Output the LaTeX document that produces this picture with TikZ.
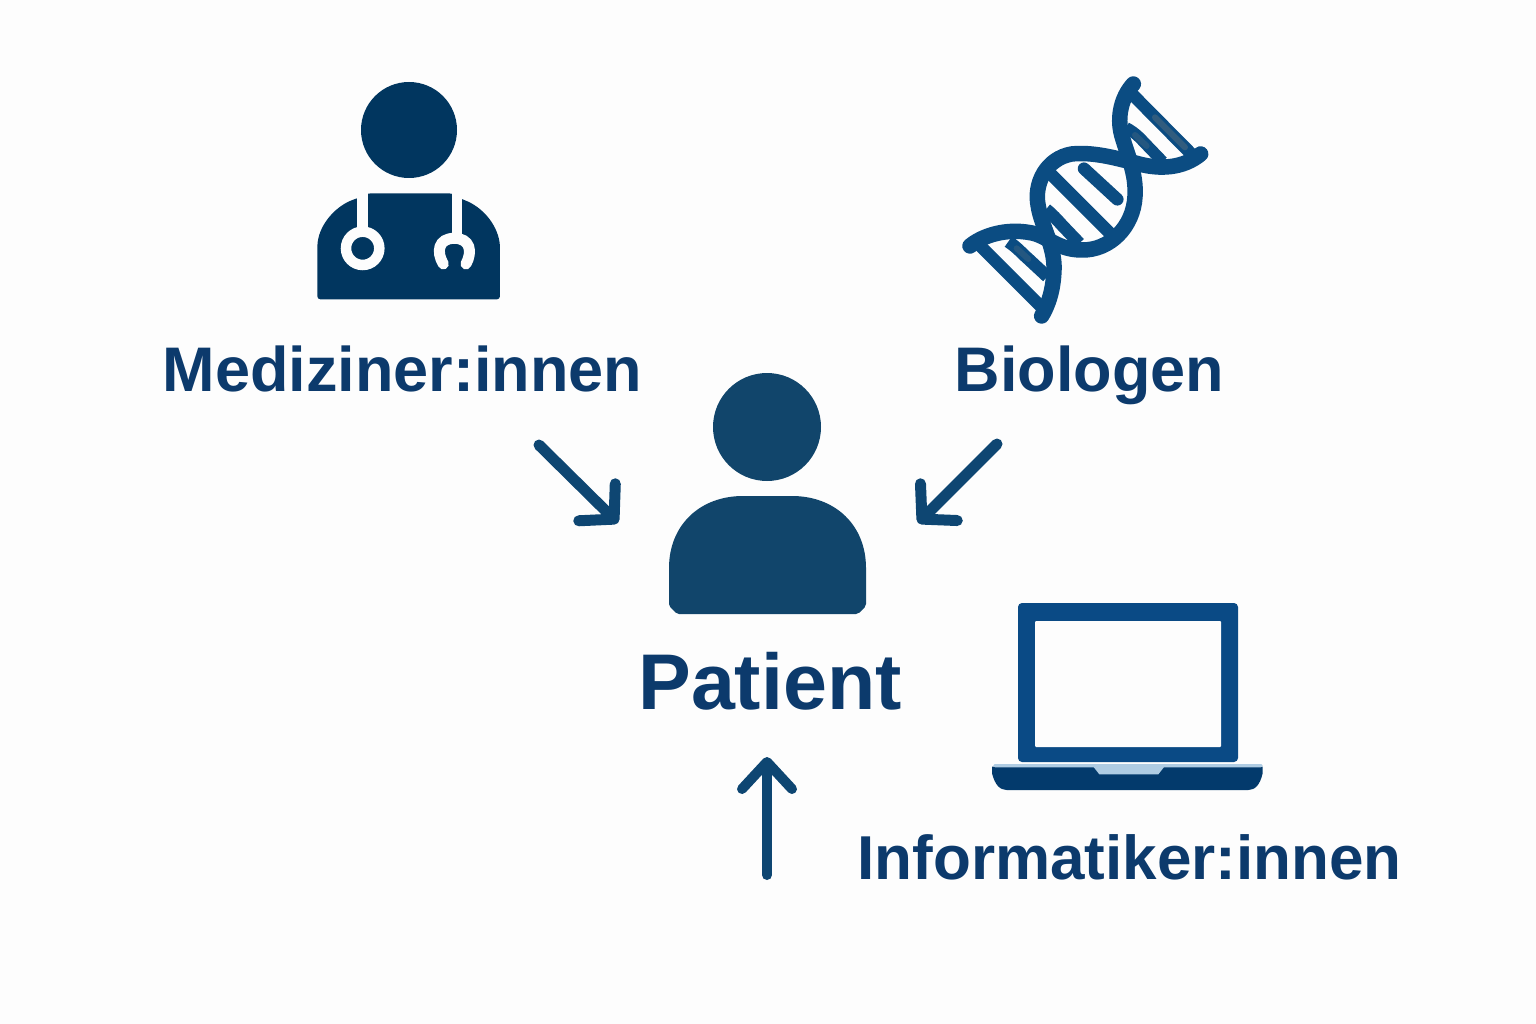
\documentclass[tikz,border=0pt]{standalone}
\usepackage{fontspec}
\setmainfont{Liberation Sans}
\usetikzlibrary{arrows.meta}
\definecolor{bgc}{HTML}{FDFDFD}
\definecolor{docc}{HTML}{01365F}
\definecolor{patc}{HTML}{11456B}
\definecolor{dnac}{HTML}{0B4C82}
\definecolor{lapc}{HTML}{0A4A85}
\definecolor{lapd}{HTML}{033A6C}
\definecolor{lapl}{HTML}{AFCCE3}
\definecolor{txtc}{HTML}{0C3A6C}
\definecolor{arrc}{HTML}{0E4672}
\definecolor{tanc}{HTML}{8A8478}
\tikzset{
  lbl/.style={font=\bfseries\fontsize{63}{70}\selectfont,text=txtc,anchor=base,inner sep=0pt},
  flow/.style={draw=arrc,line width=11pt,line cap=round,-{Straight Barb[length=24pt,width=52pt,round,line width=11pt]}},
  flowup/.style={draw=arrc,line width=10pt,line cap=round,-{Straight Barb[length=27pt,width=50pt,round,line width=10pt]}},
  strand/.style={draw=dnac,line width=15.5pt,line cap=round,line join=round},
  rung/.style={draw=dnac,line width=12.5pt,line cap=butt},
}
\begin{document}
\begin{tikzpicture}[x=1pt,y=-1pt]
\useasboundingbox (0,0) rectangle (1536,1024);
\fill[bgc] (0,0) rectangle (1536,1024);

% doctor
\fill[docc] (409,130) circle (48);
\begin{scope}[shift={(300,170)},x=0.3333pt,y=-0.3333pt]
\fill[docc,rounded corners=3pt] (52,388) -- (52,225) .. controls (60,160) and (110,105) .. (172,85)
  -- (205,70) -- (455,70) -- (487,88) .. controls (545,110) and (590,160) .. (600,225) -- (600,388) -- cycle;
\fill[bgc] (172,60) rectangle (205,185);
\fill[bgc] (455,60) rectangle (487,195);
\draw[bgc,line width=10.5pt] (188,235) circle (50);
\draw[bgc,line width=11pt,line cap=round] (430,282) .. controls (408,245) and (415,205) .. (463,205) .. controls (511,205) and (518,245) .. (498,282);
\end{scope}

% dna
\begin{scope}[shift={(940,60)},x=0.3333pt,y=-0.3333pt]
\draw[rung] (572,98) -- (768,296);
\draw[rung,line width=11.5pt] (558,203) .. controls (590,220) and (605,240) .. (620,255) -- (668,305);
\draw[rung] (325,335) -- (530,540);
\draw[rung,line width=12.5pt,line cap=round] (432,326) -- (532,418);
\draw[rung] (318,448) .. controls (345,470) and (360,490) .. (375,505) -- (418,550);
\draw[rung] (205,545) .. controls (235,565) and (250,585) .. (265,597) -- (322,650);
\draw[rung] (110,547) -- (315,752);
\draw[strand] (580,72) .. controls (545,110) and (530,170) .. (545,225) .. controls (560,280) and (590,340) .. (585,410)
  .. controls (580,500) and (510,572) .. (425,570) .. controls (350,570) and (320,525) .. (270,518) .. controls (200,505) and (130,525) .. (90,558);
\draw[strand] (782,282) .. controls (730,325) and (660,330) .. (590,310) .. controls (530,295) and (460,275) .. (395,282)
  .. controls (320,295) and (280,370) .. (295,440) .. controls (305,500) and (345,560) .. (342,630) .. controls (340,690) and (325,735) .. (305,768);
\draw[line width=6pt,tanc,opacity=.3,line cap=round] (645,172) -- (735,262);
\draw[line width=6pt,tanc,opacity=.2,line cap=round] (585,225) -- (620,258);
\draw[line width=6pt,tanc,opacity=.2,line cap=round] (230,565) -- (265,597);
\end{scope}

% patient
\fill[patc] (767,427) circle (54);
\fill[patc,rounded corners=2pt] (669,570) .. controls (669,525) and (700,496) .. (745,496) -- (790,496)
  .. controls (835,496) and (866,525) .. (866,570) -- (866,606) -- (858,614) -- (677,614) -- (669,606) -- cycle;

% laptop
\fill[lapc,rounded corners=4pt] (1018,603) rectangle (1238,762);
\fill[bgc,rounded corners=1pt] (1035,621) rectangle (1221,747);
\begin{scope}[shift={(980,730)},x=0.3333pt,y=-0.3333pt]
\fill[lapd] (36,110) -- (36,130) .. controls (45,165) and (60,180) .. (80,180) -- (805,180) .. controls (825,180) and (840,165) .. (848,130) -- (848,110) -- cycle;
\fill[lapl,rounded corners=2pt] (40,102) rectangle (848,112);
\fill[lapl] (340,110) -- (358,133) -- (535,133) -- (553,110) -- cycle;
\end{scope}

% labels
\node[lbl] (med) at (402.5,391) {Mediziner:innen};
\node[lbl] (bio) at (1089.5,391) {Biologen};
\node[lbl,font=\bfseries\fontsize{79}{84}\selectfont] (pat) at (770,709) {Patient};
\node[lbl,font=\bfseries\fontsize{62}{70}\selectfont] (inf) at (1129.5,879) {Informatiker:innen};

% arrows
\coordinate (a1s) at (539,445);
\coordinate (a1e) at (618,523);
\coordinate (a2s) at (997,444);
\coordinate (a2e) at (918,523);
\coordinate (a3s) at (767,875);
\coordinate (a3e) at (767,757);
\draw[flow] (a1s) -- (a1e);
\draw[flow] (a2s) -- (a2e);
\draw[flowup] (a3s) -- (a3e);
\end{tikzpicture}
\end{document}
